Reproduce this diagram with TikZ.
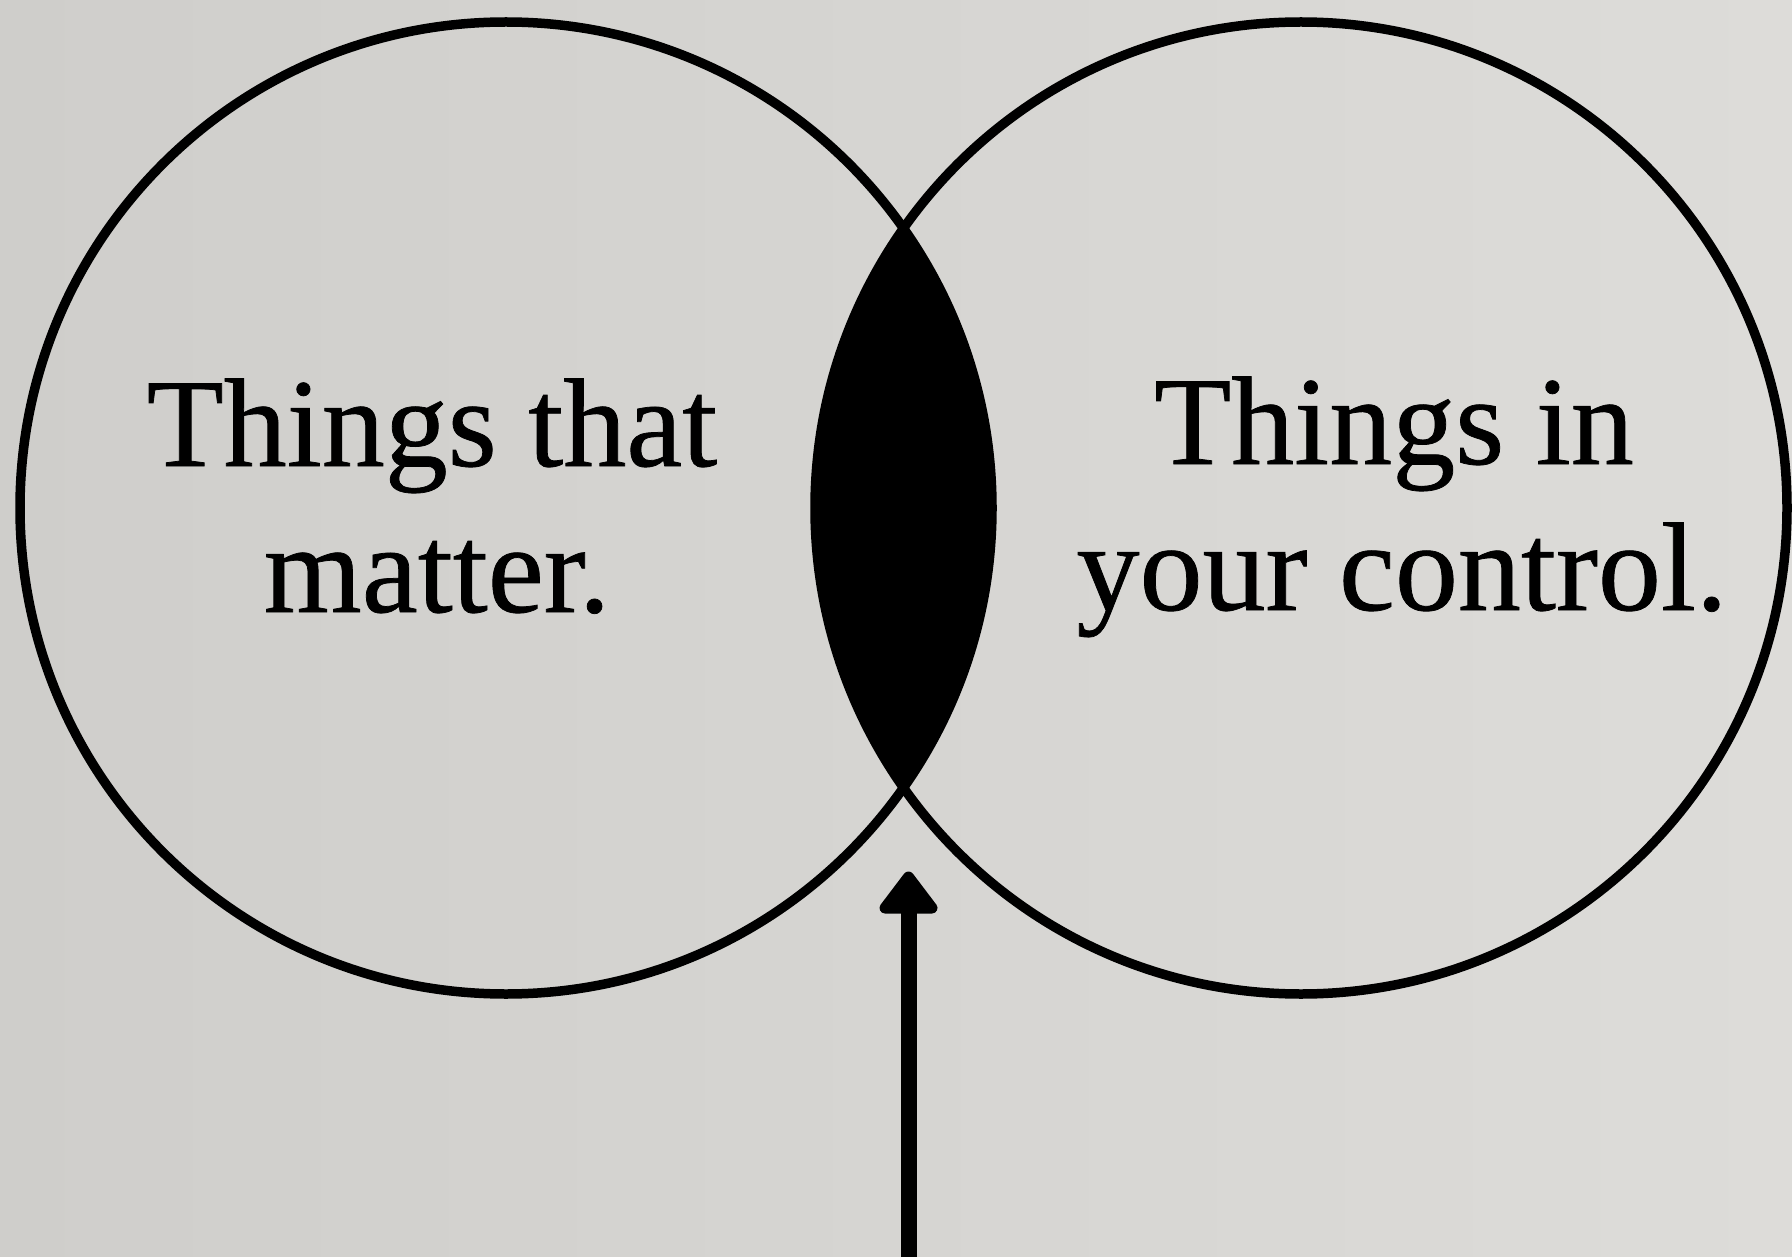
\documentclass[tikz,border=0pt]{standalone}
\usepackage{fontspec}
\setmainfont{Liberation Serif}
\newfontfamily\labelfont[FakeBold=0.6]{Liberation Serif}
\definecolor{paperL}{RGB}{207,206,203}
\definecolor{paperR}{RGB}{221,220,217}
\tikzset{
  ring/.style={draw=black, line width=9.5pt},
  lens/.style={fill=black},
  label/.style={anchor=base, inner sep=0pt, font=\labelfont\fontsize{126}{146}\selectfont, text=black},
  shaft/.style={draw=black, line width=16pt},
  headtip/.style={draw=black, fill=black, line width=11pt, line join=round}
}
\begin{document}
\begin{tikzpicture}[x=1pt,y=-1pt]
\useasboundingbox (0,0) rectangle (1792,1257);
\shade[left color=paperL, right color=paperR] (0,0) rectangle (1792,1257);
\coordinate (cL) at (506,508);
\coordinate (cR) at (1301,508);
% intersection lens
\begin{scope}
  \clip (cL) circle [radius=486];
  \fill[lens] (cR) circle [radius=486];
\end{scope}
\draw[ring] (cL) circle [radius=486];
\draw[ring] (cR) circle [radius=486];
% texts
\node[label] (tl1) at (432,466) {Things that};
\node[label] (tl2) at (437,612) {matter.};
\node[label] (tr1) at (1394,464) {Things in};
\node[label] (tr2) at (1402,610) {your control.};
% arrow
\coordinate (arrowfoot) at (909,1270);
\coordinate (headbase) at (909,900);
\coordinate (tipA) at (908.5,877);
\coordinate (tipB) at (885,908);
\coordinate (tipC) at (932,908);
\draw[shaft] (arrowfoot) -- (headbase);
\filldraw[headtip] (tipA) -- (tipB) -- (tipC) -- cycle;
\end{tikzpicture}
\end{document}
